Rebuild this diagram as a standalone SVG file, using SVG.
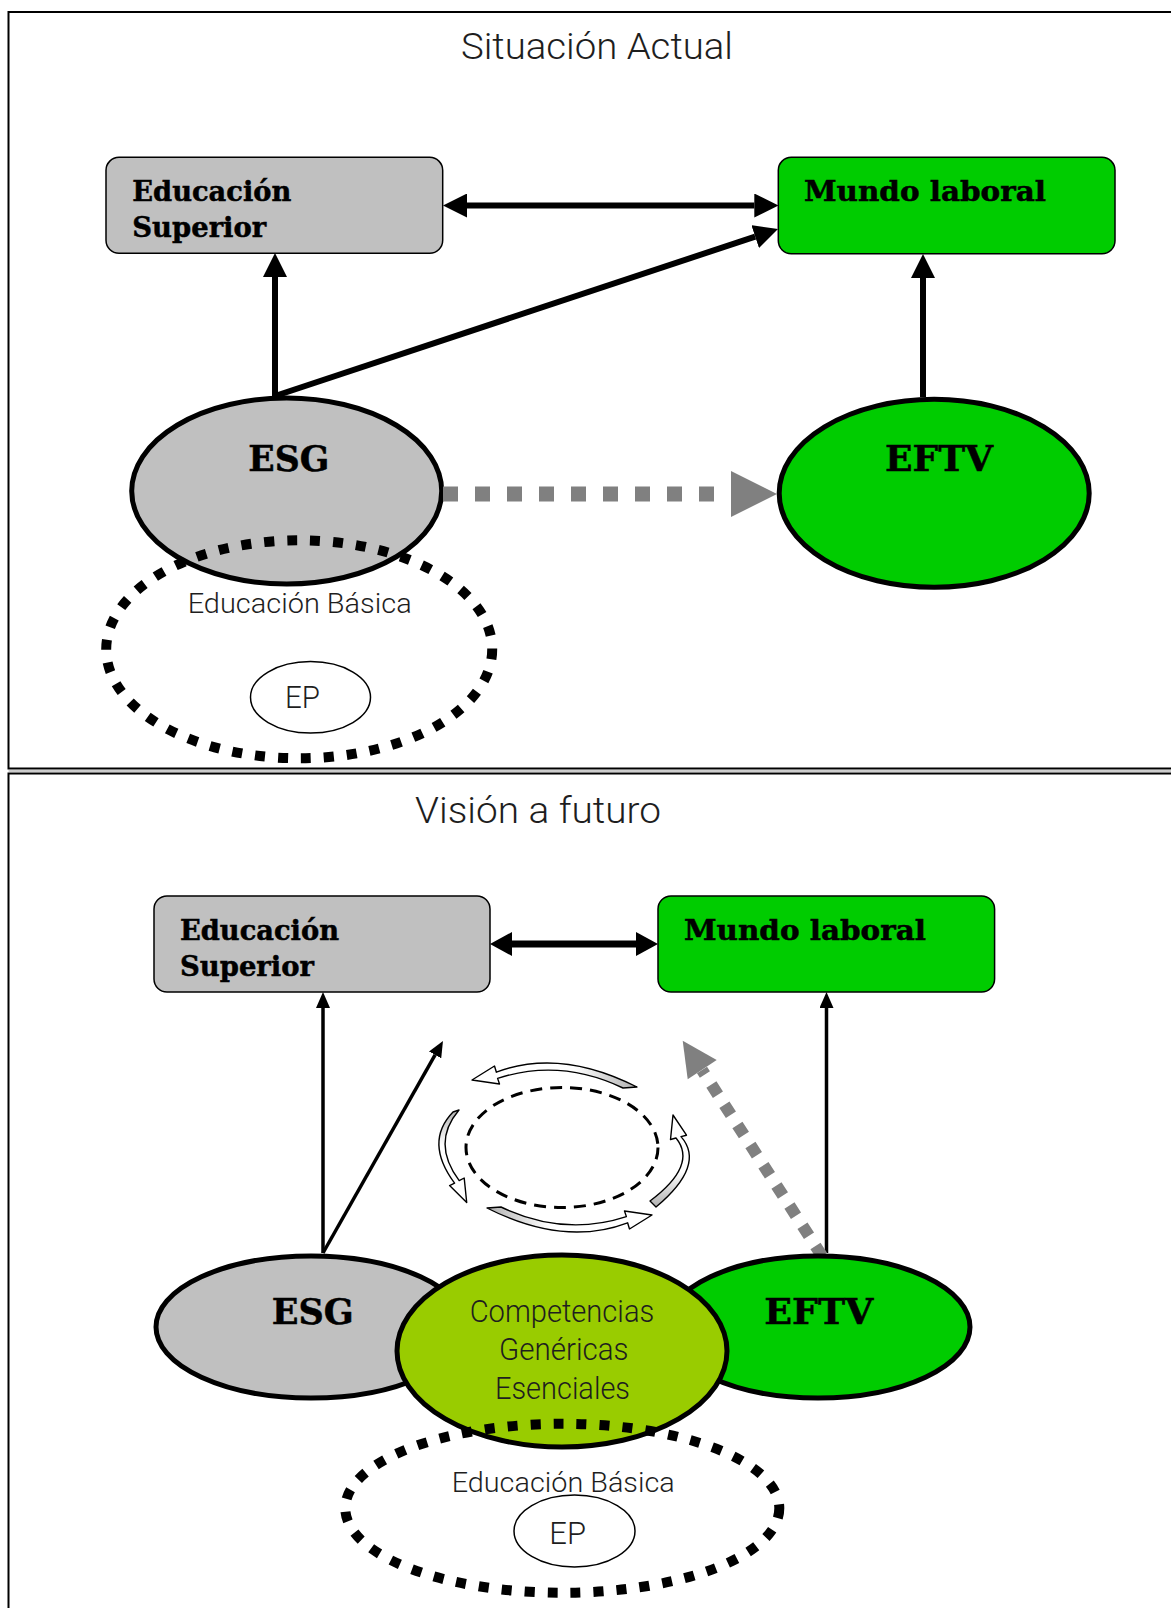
<svg xmlns="http://www.w3.org/2000/svg" width="1171" height="1608" viewBox="0 0 1171 1608">
  <style>
    .frame { stroke:#000; stroke-width:2; fill:none; }
    .box-gray { fill:#c0c0c0; stroke:#000; stroke-width:1.5; }
    .box-green { fill:#00cc00; stroke:#000; stroke-width:1.5; }
    .oval { stroke:#000; stroke-width:5; }
    .gray { fill:#c0c0c0; }
    .green { fill:#00cc00; }
    .lime { fill:#99cc00; }
    .dots { fill:none; stroke:#000; stroke-width:10; stroke-dasharray:10 13; }
    .ep { fill:none; stroke:#000; stroke-width:1.5; }
    .serif { font-family:"DejaVu Serif","Liberation Serif",serif; font-weight:bold; fill:#000; stroke:#000; stroke-width:0.5; }
    .thin { font-family:Roboto,"Open Sans","Liberation Sans",sans-serif; font-weight:300; fill:#1e1e1e; }
    .link { fill:none; stroke:#000; }
    .cycle { stroke:#000; stroke-width:1.4; stroke-linejoin:round; }
  </style>
  <defs>
    <marker id="hA" markerUnits="userSpaceOnUse" viewBox="0 0 24 24" markerWidth="24" markerHeight="24" refX="0" refY="12" orient="auto-start-reverse">
      <path d="M0 0L24 12L0 24z" fill="#000"/>
    </marker>
    <marker id="hC" markerUnits="userSpaceOnUse" viewBox="0 0 22 24" markerWidth="22" markerHeight="24" refX="0" refY="12" orient="auto-start-reverse">
      <path d="M0 0L22 12L0 24z" fill="#000"/>
    </marker>
    <marker id="hB" markerUnits="userSpaceOnUse" viewBox="0 0 16 14" markerWidth="16" markerHeight="14" refX="0" refY="7" orient="auto">
      <path d="M0 0L16 7L0 14z" fill="#000"/>
    </marker>
    <linearGradient id="gTop" x1="0" y1="0" x2="1" y2="0">
      <stop offset="0" stop-color="#fff"/>
      <stop offset="0.62" stop-color="#fff"/>
      <stop offset="1" stop-color="#b0b0b0"/>
    </linearGradient>
    <linearGradient id="gLeft" x1="0" y1="1" x2="0" y2="0">
      <stop offset="0" stop-color="#fff"/>
      <stop offset="0.62" stop-color="#fff"/>
      <stop offset="1" stop-color="#b0b0b0"/>
    </linearGradient>
    <linearGradient id="gRight" x1="0" y1="0" x2="0" y2="1">
      <stop offset="0" stop-color="#fff"/>
      <stop offset="0.62" stop-color="#fff"/>
      <stop offset="1" stop-color="#b0b0b0"/>
    </linearGradient>
  </defs>

  <rect width="1171" height="1608" fill="#fff"/>

  <!-- panel frames -->
  <g id="frames">
    <path class="frame" d="M1171 12H8.5V768.5H1171"/>
    <path class="frame" d="M1171 773.5H8.5V1608" stroke-width="1.5"/>
    <line x1="8.5" y1="771" x2="1171" y2="771" stroke="#9a9a9a" stroke-width="1"/>
  </g>

  <!-- panel titles -->
  <text class="thin" x="461" y="58.5" font-size="37" textLength="272" lengthAdjust="spacingAndGlyphs">Situación Actual</text>
  <text class="thin" x="415" y="822.5" font-size="37" textLength="246" lengthAdjust="spacingAndGlyphs">Visión a futuro</text>

  <!-- ===== current situation ===== -->
  <g id="ed-superior-1">
    <rect class="box-gray" x="106" y="157.3" width="336.7" height="96" rx="13"/>
    <text class="serif" x="132.3" y="200.7" font-size="27.5" textLength="159" lengthAdjust="spacingAndGlyphs">Educación</text>
    <text class="serif" x="132.3" y="236.7" font-size="27.5" textLength="134" lengthAdjust="spacingAndGlyphs">Superior</text>
  </g>
  <g id="mundo-laboral-1">
    <rect class="box-green" x="778.3" y="157.3" width="336.7" height="96.5" rx="13"/>
    <text class="serif" x="804" y="200.7" font-size="27.5" textLength="242" lengthAdjust="spacingAndGlyphs">Mundo laboral</text>
  </g>
  <g id="esg-1">
    <ellipse class="oval gray" cx="286.7" cy="491" rx="155" ry="93"/>
    <text class="serif" x="288.8" y="470.7" font-size="35" text-anchor="middle" textLength="81" lengthAdjust="spacingAndGlyphs">ESG</text>
  </g>
  <g id="eftv-1">
    <ellipse class="oval green" cx="934.2" cy="493.3" rx="155" ry="94"/>
    <text class="serif" x="939" y="470.7" font-size="35" text-anchor="middle" textLength="108" lengthAdjust="spacingAndGlyphs">EFTV</text>
  </g>
  <g id="ed-basica-1">
    <ellipse class="dots" cx="299.2" cy="649.3" rx="193" ry="109"/>
    <text class="thin" x="187.7" y="612.7" font-size="28" textLength="224" lengthAdjust="spacingAndGlyphs">Educación Básica</text>
  </g>
  <g id="ep-1">
    <ellipse class="ep" cx="310.5" cy="697.3" rx="60" ry="35.7"/>
    <text class="thin" x="285" y="708.3" font-size="32" textLength="35" lengthAdjust="spacingAndGlyphs">EP</text>
  </g>

  <g id="connectors-1">
    <path class="link" stroke-width="6" d="M467 205.5H754.3" marker-start="url(#hA)" marker-end="url(#hA)"/>
    <path class="link" stroke-width="6" d="M275 396V277" marker-end="url(#hA)"/>
    <path class="link" stroke-width="6" d="M275 396L755.2 236.6" marker-end="url(#hA)"/>
    <path class="link" stroke-width="6" d="M923 397V278" marker-end="url(#hA)"/>
    <path d="M443 494H714" fill="none" stroke="#808080" stroke-width="15" stroke-dasharray="15 17"/>
    <path d="M731 471L777 494L731 517z" fill="#808080"/>
  </g>

  <!-- ===== future vision ===== -->
  <g id="ed-superior-2">
    <rect class="box-gray" x="154" y="896" width="336" height="96" rx="13"/>
    <text class="serif" x="180" y="939.7" font-size="27.5" textLength="159" lengthAdjust="spacingAndGlyphs">Educación</text>
    <text class="serif" x="180" y="975.7" font-size="27.5" textLength="134" lengthAdjust="spacingAndGlyphs">Superior</text>
  </g>
  <g id="mundo-laboral-2">
    <rect class="box-green" x="658" y="896" width="336.6" height="96" rx="13"/>
    <text class="serif" x="684" y="939.7" font-size="27.5" textLength="242" lengthAdjust="spacingAndGlyphs">Mundo laboral</text>
  </g>

  <!-- improvement cycle -->
  <g id="cycle">
    <ellipse cx="562" cy="1147.5" rx="96" ry="60" fill="none" stroke="#000" stroke-width="3" stroke-dasharray="12 8"/>
    <path class="cycle" fill="url(#gTop)" d="M497.6 1078.4L499.5 1084L472 1080L494.5 1066L496.4 1072.2Q560 1048 637 1087L623 1088Q560 1058 497.6 1078.4Z"/>
    <path class="cycle" fill="url(#gTop)" transform="rotate(180 562 1147.5)" d="M497.6 1078.4L499.5 1084L472 1080L494.5 1066L496.4 1072.2Q560 1048 637 1087L623 1088Q560 1058 497.6 1078.4Z"/>
    <path class="cycle" fill="url(#gLeft)" d="M459.2 1180.6L464.2 1178L466.7 1202.5L449.6 1185.6L454.6 1183.2Q424 1142 453 1112L459 1110Q431 1143 459.2 1180.6Z"/>
    <path class="cycle" fill="url(#gRight)" d="M676 1138L670.5 1139.5L673 1115L686.5 1135.2L681 1136.6Q706 1165 656 1207L650 1201Q698 1165 676 1138Z"/>
  </g>

  <g id="connectors-2">
    <path class="link" stroke-width="7" d="M512 944H636" marker-start="url(#hC)" marker-end="url(#hC)"/>
    <path class="link" stroke-width="3.5" d="M323 1253V1008" marker-end="url(#hB)"/>
    <path class="link" stroke-width="3.5" d="M323 1253L435.1 1054.9" marker-end="url(#hB)"/>
    <path class="link" stroke-width="3.5" d="M826.5 1253V1008" marker-end="url(#hB)"/>
    <path d="M822 1256L702 1070" fill="none" stroke="#808080" stroke-width="12" stroke-dasharray="12 12"/>
    <path d="M682.7 1040.7L716.7 1060L687.7 1079.3z" fill="#808080"/>
  </g>

  <g id="esg-2">
    <ellipse class="oval gray" cx="311" cy="1327" rx="155" ry="71"/>
    <text class="serif" x="312.7" y="1324" font-size="35" text-anchor="middle" textLength="82" lengthAdjust="spacingAndGlyphs">ESG</text>
  </g>
  <g id="eftv-2">
    <ellipse class="oval green" cx="818" cy="1327" rx="152" ry="71"/>
    <text class="serif" x="818.8" y="1324" font-size="35" text-anchor="middle" textLength="109" lengthAdjust="spacingAndGlyphs">EFTV</text>
  </g>
  <g id="competencias">
    <ellipse class="oval lime" cx="562" cy="1351" rx="165" ry="96"/>
    <text class="thin" x="562" y="1321.7" font-size="31" text-anchor="middle" textLength="184.6" lengthAdjust="spacingAndGlyphs">Competencias</text>
    <text class="thin" x="563.8" y="1360" font-size="31" text-anchor="middle" textLength="129.6" lengthAdjust="spacingAndGlyphs">Genéricas</text>
    <text class="thin" x="562.5" y="1399.3" font-size="31" text-anchor="middle" textLength="135" lengthAdjust="spacingAndGlyphs">Esenciales</text>
  </g>
  <g id="ed-basica-2">
    <ellipse class="dots" cx="562.3" cy="1508.3" rx="217" ry="84.5"/>
    <text class="thin" x="451.7" y="1491.7" font-size="28" textLength="223" lengthAdjust="spacingAndGlyphs">Educación Básica</text>
  </g>
  <g id="ep-2">
    <ellipse class="ep" cx="574.5" cy="1531" rx="60.5" ry="36"/>
    <text class="thin" x="549.3" y="1544" font-size="32" textLength="36.7" lengthAdjust="spacingAndGlyphs">EP</text>
  </g>
</svg>
